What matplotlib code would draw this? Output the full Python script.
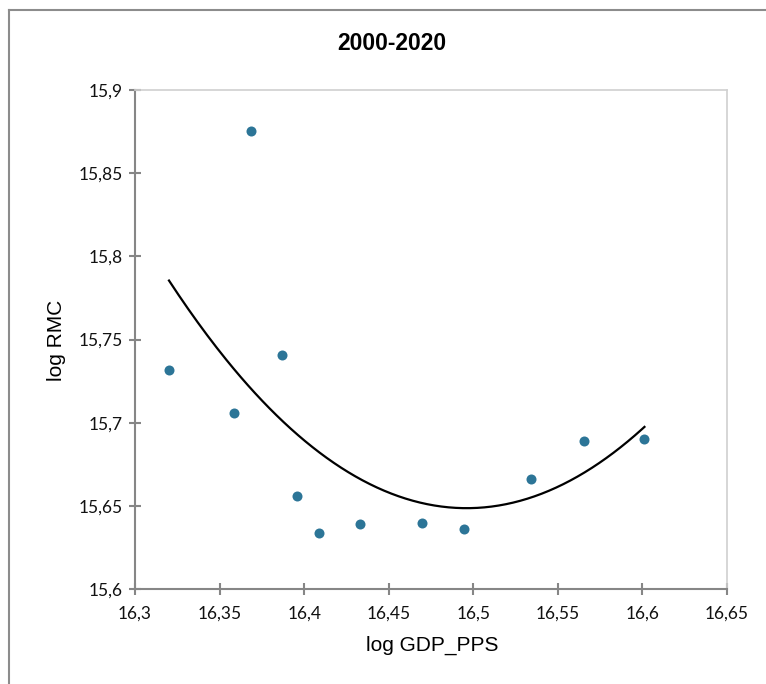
import numpy as np
import matplotlib
matplotlib.use("Agg")
import matplotlib.pyplot as plt
from matplotlib.ticker import FixedLocator, FuncFormatter
from matplotlib.lines import Line2D

# Data
log_gdp_pps = [16.3201, 16.3584, 16.3684, 16.3868, 16.3958, 16.4086,
               16.4329, 16.4695, 16.4944, 16.5340, 16.5657, 16.6012]
log_rmc = [15.7317, 15.7060, 15.8756, 15.7409, 15.6559, 15.6337,
           15.6391, 15.6399, 15.6359, 15.6663, 15.6890, 15.6902]
x_ticks = [16.3, 16.35, 16.4, 16.45, 16.5, 16.55, 16.6, 16.65]
y_ticks = [15.6, 15.65, 15.7, 15.75, 15.8, 15.85, 15.9]
title = "2000-2020"
x_label = "log GDP_PPS"
y_label = "log RMC"

W, H = 766, 684
fig = plt.figure(figsize=(W / 100, H / 100), dpi=100)
fig.patch.set_facecolor("white")

# outer chart border (left and top visible)
fig.add_artist(Line2D([9 / W, 9 / W], [0, 1 - 10 / H], transform=fig.transFigure,
                      color="#8c8c8c", lw=1.5))
fig.add_artist(Line2D([9 / W, 1], [1 - 10 / H, 1 - 10 / H], transform=fig.transFigure,
                      color="#8c8c8c", lw=1.5))

left, right, top, bottom = 135, 727, 90, 589
ax = fig.add_axes([left / W, 1 - bottom / H, (right - left) / W, (bottom - top) / H])

ax.scatter(log_gdp_pps, log_rmc, s=52, color="#2C7597", zorder=3, linewidths=0)

# 2nd-order polynomial trendline
coef = np.polyfit(log_gdp_pps, log_rmc, 2)
xs = np.linspace(min(log_gdp_pps), max(log_gdp_pps), 200)
ax.plot(xs, np.polyval(coef, xs), color="black", lw=1.6, zorder=2)

ax.set_xlim(x_ticks[0], x_ticks[-1])
ax.set_ylim(y_ticks[0], y_ticks[-1])
ax.xaxis.set_major_locator(FixedLocator(x_ticks))
ax.yaxis.set_major_locator(FixedLocator(y_ticks))
fmt = FuncFormatter(lambda v, p: (f"{v:.2f}".rstrip("0").rstrip(".")).replace(".", ","))
ax.xaxis.set_major_formatter(fmt)
ax.yaxis.set_major_formatter(fmt)

for s in ["left", "bottom"]:
    ax.spines[s].set_color("#868686")
    ax.spines[s].set_linewidth(1.5)
for s in ["top", "right"]:
    ax.spines[s].set_color("#d0d0d0")
    ax.spines[s].set_linewidth(1.2)

ax.tick_params(axis="both", direction="inout", length=8, width=1.5, color="#868686",
               labelsize=12.5, labelcolor="#111111")
ax.tick_params(axis="x", pad=8)
ax.tick_params(axis="y", pad=5)
for lab in ax.get_xticklabels() + ax.get_yticklabels():
    lab.set_fontfamily("Lato")

fig.text(392 / W, 1 - 43 / H, title, ha="center", va="center",
         fontsize=16.5, fontweight="bold", family="Liberation Sans")
fig.text(432 / W, 1 - 645 / H, x_label, ha="center", va="center",
         fontsize=15, family="Liberation Sans")
fig.text(57 / W, 1 - 340 / H, y_label, ha="center", va="center", rotation=90,
         fontsize=15, family="Liberation Sans")

fig.savefig("out.png", dpi=100, facecolor="white")
